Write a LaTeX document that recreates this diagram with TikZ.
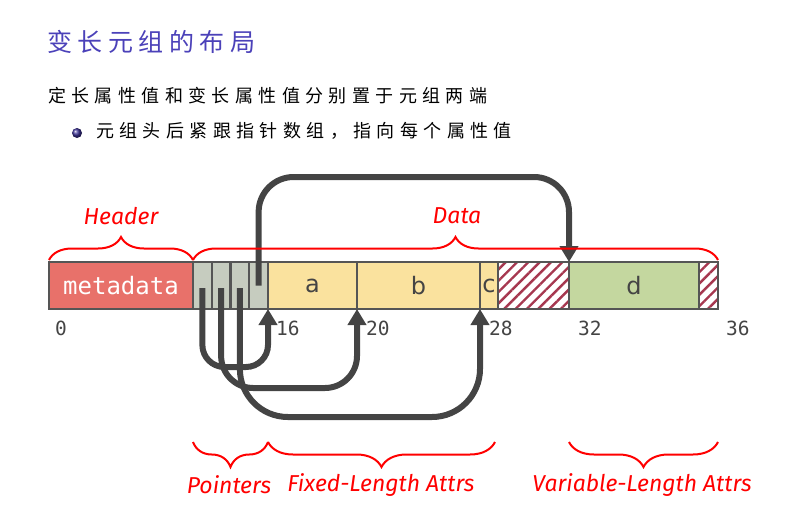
\documentclass[tikz,border=0pt]{standalone}
\usepackage{fontspec}
\setmainfont{DejaVu Sans}
\setmonofont{DejaVu Sans Mono}
\newfontfamily\cjktitle[LetterSpace=22]{Noto Sans CJK SC}
\newfontfamily\cjk[LetterSpace=30]{Noto Sans CJK SC}
\newfontfamily\labelfont{Fira Sans}
\usetikzlibrary{arrows.meta,positioning,decorations.pathreplacing,patterns.meta,shadings}

\definecolor{titleblue}{RGB}{75,65,185}
\definecolor{bulletblue}{RGB}{60,50,150}
\definecolor{metared}{RGB}{232,113,106}
\definecolor{ptrfill}{RGB}{198,204,191}
\definecolor{fixfill}{RGB}{250,226,158}
\definecolor{varfill}{RGB}{196,215,159}
\definecolor{barline}{RGB}{85,85,85}
\definecolor{celltext}{RGB}{68,68,68}
\definecolor{ptrgray}{RGB}{68,68,68}
\definecolor{hatch}{RGB}{166,55,79}

\begin{document}
\begin{tikzpicture}[x=1pt,y=-1pt,every node/.style={inner sep=0pt},
  cell/.style={draw=barline,line width=2.2pt,minimum height=47pt,inner sep=0pt,outer sep=0pt,
    anchor=west,text=celltext,font=\fontsize{24}{24}\selectfont},
  ptrcell/.style={cell,fill=ptrfill,minimum width=18.75pt},
  fixcell/.style={cell,fill=fixfill},
  hatchcell/.style={cell,pattern={Lines[angle=45,distance=8pt,line width=2.4pt]},pattern color=hatch},
  ptr/.style={draw=ptrgray,line width=6pt,-{Triangle[width=18pt,length=16pt]}},
  brc/.style={draw=red,line width=2pt,decorate,decoration={brace,amplitude=23pt}},
  brcdown/.style={draw=red,line width=2pt,decorate,decoration={brace,mirror,amplitude=25pt}},
  tag/.style={text=red,font=\labelfont\itshape\fontsize{23}{23}\selectfont},
  tick/.style={anchor=west,text=celltext,font=\ttfamily\fontsize{19.5}{19.5}\selectfont}]
\useasboundingbox (0,0) rectangle (795,519);

\node[anchor=west,text=titleblue,font=\cjktitle\fontsize{25}{25}\selectfont] (title) at (47,42) {变长元组的布局};
\node[anchor=west,text=black,font=\cjk\fontsize{18}{18}\selectfont] (line1) at (48,96) {定长属性值和变长属性值分别置于元组两端};
\node[circle,minimum size=10pt,ball color=bulletblue] (dot) at (77,133) {};
\node[anchor=west,text=black,font=\cjk\fontsize{18}{18}\selectfont] (line2) at (96,131) {元组头后紧跟指针数组，指向每个属性值};

\node[cell,fill=metared,minimum width=144pt,text=white,font=\ttfamily\fontsize{24}{24}\selectfont] (meta) at (49,285.5) {metadata};
\node[ptrcell,right=0pt of meta] (p1) {};
\node[ptrcell,right=0pt of p1] (p2) {};
\node[ptrcell,right=0pt of p2] (p3) {};
\node[ptrcell,right=0pt of p3] (p4) {};
\node[fixcell,minimum width=89pt,right=0pt of p4] (a) {a};
\node[fixcell,minimum width=123pt,right=0pt of a] (b) {b};
\node[fixcell,minimum width=18pt,right=0pt of b] (c) {c};
\node[hatchcell,minimum width=71pt,right=0pt of c] (h1) {};
\node[cell,fill=varfill,minimum width=130pt,right=0pt of h1] (d) {d};
\node[hatchcell,minimum width=19pt,right=0pt of d] (h2) {};

\node[tick] (t0) at (55,328) {0};
\node[tick] (t16) at (276,328) {16};
\node[tick] (t20) at (366,328) {20};
\node[tick] (t28) at (489,328) {28};
\node[tick] (t32) at (578,328) {32};
\node[tick] (t36) at (726,328) {36};

\coordinate (top) at (0,177);
\coordinate (bot) at (0,442);
\draw[ptr,rounded corners=35pt] (p4.center) -- (p4.center |- top) -| (d.north west);
\draw[ptr,rounded corners=22pt] ([yshift=-2.5pt]p1.center) -- ++(0,79) -| (a.south west);
\draw[ptr,rounded corners=32pt] ([yshift=-2.5pt]p2.center) -- ++(0,100) -| (b.south west);
\draw[ptr,rounded corners=48pt] ([yshift=-2.5pt]p3.center) -- ++(0,129) -| (c.south west);

\draw[brc] ([yshift=2pt]meta.north west) -- ([yshift=2pt]meta.north east);
\draw[brc] ([yshift=2pt]p1.north west) -- ([yshift=2pt]h2.north east);
\node[tag] (hdr) at (121,216) {Header};
\node[tag] (dat) at (457,216) {Data};

\draw[brcdown] (p1.west |- bot) -- (a.west |- bot);
\draw[brcdown] (a.west |- bot) -- (495,442);
\draw[brcdown] (h1.east |- bot) -- (h2.east |- bot);
\node[tag] (lptr) at (229,485) {Pointers};
\node[tag] (lfix) at (381,485) {Fixed-Length Attrs};
\node[tag] (lvar) at (642,485) {Variable-Length Attrs};
\end{tikzpicture}
\end{document}
